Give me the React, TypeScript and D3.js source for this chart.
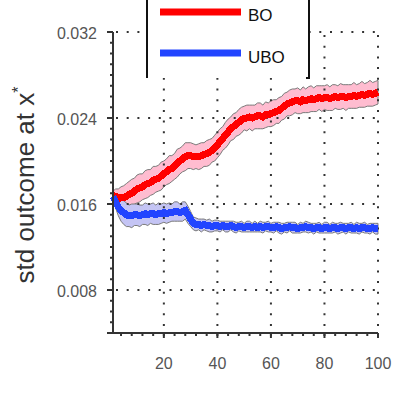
import React from 'react';
import * as d3 from 'd3';

// mean std outcome per iteration (1..100)
const boMean = [
  0.0168, 0.0167, 0.0165, 0.0166, 0.0166, 0.0167, 0.0169, 0.0170, 0.0172, 0.0174,
  0.0175, 0.0176, 0.0178, 0.0179, 0.0180, 0.0182, 0.0183, 0.0184, 0.0186, 0.0188,
  0.0190, 0.0192, 0.0193, 0.0195, 0.0198, 0.0200, 0.0202, 0.0204, 0.0205, 0.0205,
  0.0204, 0.0204, 0.0204, 0.0205, 0.0206, 0.0207, 0.0208, 0.0210, 0.0212, 0.0215,
  0.0218, 0.0221, 0.0224, 0.0227, 0.0230, 0.0232, 0.0234, 0.0236, 0.0238, 0.0240,
  0.0240, 0.0241, 0.0240, 0.0241, 0.0242, 0.0242, 0.0241, 0.0243, 0.0243, 0.0244,
  0.0245, 0.0246, 0.0247, 0.0249, 0.0251, 0.0253, 0.0254, 0.0255, 0.0256, 0.0256,
  0.0255, 0.0257, 0.0256, 0.0257, 0.0258, 0.0257, 0.0258, 0.0259, 0.0258, 0.0259,
  0.0259, 0.0258, 0.0259, 0.0260, 0.0259, 0.0260, 0.0260, 0.0259, 0.0260, 0.0260,
  0.0261, 0.0260, 0.0261, 0.0262, 0.0261, 0.0262, 0.0263, 0.0262, 0.0263, 0.0264,
];

// half width of the shaded band
const boHalf = [
  0.0004, 0.0007, 0.0009, 0.0010, 0.0011, 0.0012, 0.0012, 0.0013, 0.0012, 0.0013,
  0.0013, 0.0012, 0.0013, 0.0013, 0.0012, 0.0013, 0.0012, 0.0012, 0.0013, 0.0012,
  0.0012, 0.0013, 0.0012, 0.0012, 0.0013, 0.0012, 0.0012, 0.0013, 0.0012, 0.0012,
  0.0012, 0.0011, 0.0012, 0.0012, 0.0011, 0.0012, 0.0012, 0.0011, 0.0012, 0.0012,
  0.0012, 0.0011, 0.0012, 0.0012, 0.0011, 0.0012, 0.0011, 0.0012, 0.0012, 0.0011,
  0.0012, 0.0011, 0.0012, 0.0011, 0.0012, 0.0012, 0.0011, 0.0012, 0.0011, 0.0012,
  0.0012, 0.0011, 0.0012, 0.0011, 0.0012, 0.0011, 0.0012, 0.0012, 0.0011, 0.0012,
  0.0011, 0.0012, 0.0011, 0.0012, 0.0012, 0.0011, 0.0012, 0.0011, 0.0012, 0.0011,
  0.0012, 0.0011, 0.0012, 0.0011, 0.0011, 0.0012, 0.0011, 0.0012, 0.0011, 0.0011,
  0.0012, 0.0011, 0.0011, 0.0012, 0.0011, 0.0011, 0.0012, 0.0011, 0.0011, 0.0011,
];

const uboMean = [
  0.0167, 0.0162, 0.0157, 0.0154, 0.0152, 0.0150, 0.0149, 0.0149, 0.0150, 0.0150,
  0.0149, 0.0150, 0.0151, 0.0150, 0.0151, 0.0151, 0.0150, 0.0151, 0.0151, 0.0152,
  0.0151, 0.0152, 0.0152, 0.0153, 0.0153, 0.0152, 0.0153, 0.0154, 0.0150, 0.0146,
  0.0142, 0.0141, 0.0141, 0.0140, 0.0141, 0.0140, 0.0140, 0.0139, 0.0140, 0.0140,
  0.0139, 0.0140, 0.0139, 0.0139, 0.0140, 0.0139, 0.0138, 0.0139, 0.0139, 0.0138,
  0.0139, 0.0139, 0.0138, 0.0139, 0.0138, 0.0139, 0.0138, 0.0139, 0.0139, 0.0138,
  0.0138, 0.0139, 0.0138, 0.0137, 0.0138, 0.0138, 0.0139, 0.0138, 0.0138, 0.0137,
  0.0138, 0.0138, 0.0139, 0.0138, 0.0138, 0.0137, 0.0138, 0.0138, 0.0137, 0.0138,
  0.0138, 0.0137, 0.0138, 0.0138, 0.0137, 0.0138, 0.0138, 0.0137, 0.0138, 0.0138,
  0.0137, 0.0138, 0.0137, 0.0138, 0.0138, 0.0137, 0.0137, 0.0138, 0.0137, 0.0137,
];

const uboHalf = [
  0.0003, 0.0006, 0.0008, 0.0010, 0.0011, 0.0011, 0.0010, 0.0011, 0.0010, 0.0010,
  0.0010, 0.0009, 0.0010, 0.0010, 0.0009, 0.0010, 0.0009, 0.0010, 0.0009, 0.0009,
  0.0009, 0.0009, 0.0008, 0.0009, 0.0009, 0.0008, 0.0009, 0.0008, 0.0008, 0.0007,
  0.0006, 0.0006, 0.0005, 0.0006, 0.0005, 0.0005, 0.0006, 0.0005, 0.0005, 0.0005,
  0.0005, 0.0004, 0.0005, 0.0005, 0.0004, 0.0005, 0.0005, 0.0004, 0.0005, 0.0004,
  0.0005, 0.0005, 0.0004, 0.0005, 0.0004, 0.0005, 0.0005, 0.0004, 0.0005, 0.0004,
  0.0005, 0.0004, 0.0005, 0.0005, 0.0004, 0.0005, 0.0004, 0.0005, 0.0005, 0.0004,
  0.0005, 0.0004, 0.0005, 0.0005, 0.0004, 0.0005, 0.0004, 0.0005, 0.0004, 0.0005,
  0.0005, 0.0004, 0.0005, 0.0004, 0.0005, 0.0005, 0.0004, 0.0005, 0.0004, 0.0005,
  0.0004, 0.0005, 0.0005, 0.0004, 0.0005, 0.0004, 0.0005, 0.0004, 0.0005, 0.0005,
];

const xTicks = [20, 40, 60, 80, 100];
const yTicks = [0.008, 0.016, 0.024, 0.032];
const yTickLabels = ['0.008', '0.016', '0.024', '0.032'];
const seriesNames = ['BO', 'UBO'];

const FONT = '"Liberation Sans", Arial, sans-serif';
const axisColor = '#333';

const App = () => {
  const width = 415;
  const height = 418;
  const plot = { left: 113, right: 378, top: 32, bottom: 333 };

  const x = d3.scaleLinear().domain([1, 100]).range([plot.left, plot.right]);
  const y = d3.scaleLinear().domain([0.004, 0.032]).range([plot.bottom, plot.top]);

  const minorX = d3.range(4, 101, 4);
  const minorY = d3.range(5, 32).map(v => v / 1000);

  const series = [
    { name: seriesNames[0], mean: boMean, half: boHalf, line: '#ff0000', band: '#ffbcd0' },
    { name: seriesNames[1], mean: uboMean, half: uboHalf, line: '#2244ff', band: '#c4c4f4' },
  ];

  const area = (mean, half) =>
    d3.area()
      .x((_, i) => x(i + 1))
      .y0((_, i) => y(mean[i] - half[i]))
      .y1((_, i) => y(mean[i] + half[i]))(mean);

  const line = (mean) =>
    d3.line()
      .x((_, i) => x(i + 1))
      .y(d => y(d))(mean);

  const dots = { stroke: axisColor, strokeWidth: 2, strokeDasharray: '2,8.7' };

  return (
    <svg width={width} height={height}
      style={{ position: 'absolute', left: 0, top: 0, background: '#fff', fontFamily: FONT }}>
      {/* bands */}
      {series.map(s => (
        <path key={s.name + 'band'} d={area(s.mean, s.half)} fill={s.band} stroke="#7a7a7a" strokeWidth={1} />
      ))}

      {/* grid */}
      {yTicks.map(t => (
        <line key={'gy' + t} x1={plot.left + 3} x2={plot.right} y1={y(t)} y2={y(t)} {...dots} />
      ))}
      {xTicks.map(t => (
        <line key={'gx' + t} x1={x(t)} x2={x(t)} y1={plot.top + 3} y2={plot.bottom} {...dots} />
      ))}

      {/* mean lines */}
      <path d={line(boMean)} fill="none" stroke={series[0].line} strokeWidth={7} shapeRendering="crispEdges" />
      <path d={line(uboMean)} fill="none" stroke={series[1].line} strokeWidth={7} shapeRendering="crispEdges" />

      {/* axes */}
      <line x1={plot.left} x2={plot.left} y1={plot.top} y2={plot.bottom + 1} stroke={axisColor} strokeWidth={2} />
      <line x1={plot.left - 6} x2={plot.right} y1={plot.bottom} y2={plot.bottom} stroke={axisColor} strokeWidth={2} />
      {yTicks.map((t, i) => (
        <g key={'yt' + t}>
          <line x1={plot.left - 6} x2={plot.left} y1={y(t)} y2={y(t)} stroke={axisColor} strokeWidth={2} />
          <text x={97} y={y(t) + 7} textAnchor="end" fontSize={16} fill="#555">{yTickLabels[i]}</text>
        </g>
      ))}
      {minorY.map(t => (
        <line key={'my' + t} x1={plot.left - 3} x2={plot.left} y1={y(t)} y2={y(t)} stroke={axisColor} strokeWidth={2} />
      ))}
      {xTicks.map(t => (
        <g key={'xt' + t}>
          <line x1={x(t)} x2={x(t)} y1={plot.bottom} y2={plot.bottom + 5} stroke={axisColor} strokeWidth={2} />
          <text x={x(t)} y={369} textAnchor="middle" fontSize={16} fill="#555">{t}</text>
        </g>
      ))}
      {minorX.map(t => (
        <line key={'mx' + t} x1={x(t)} x2={x(t)} y1={plot.bottom} y2={plot.bottom + 3} stroke={axisColor} strokeWidth={2} />
      ))}

      {/* y label */}
      <text transform="translate(34,185) rotate(-90)" textAnchor="middle" fontSize={26} fill="#333">
        std outcome at x<tspan fontSize={16} dy={-10}>*</tspan>
      </text>

      {/* legend */}
      <rect x={147} y={0} width={162} height={78} fill="#fff" />
      <line x1={147} x2={147} y1={0} y2={78} stroke="#111" strokeWidth={2} />
      <path d="M309,0 V78 H306" fill="none" stroke="#111" strokeWidth={2} />
      {series.map((s, i) => (
        <g key={'lg' + s.name}>
          <line x1={160} x2={241} y1={12 + i * 41} y2={12 + i * 41} stroke={s.line} strokeWidth={7} />
          <text x={248} y={21 + i * 42} fontSize={17} fill="#111">{s.name}</text>
        </g>
      ))}
    </svg>
  );
};

export default App;
